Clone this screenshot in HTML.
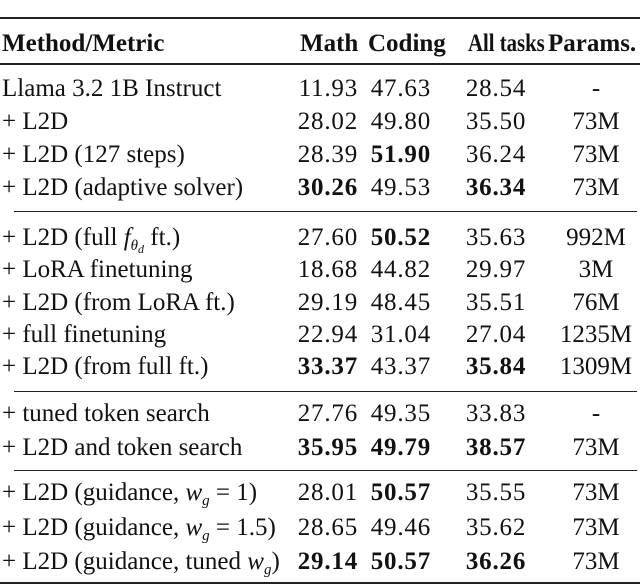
<!DOCTYPE html>
<html><head><meta charset="utf-8"><style>
body{margin:0;width:640px;height:586px;background:#fff;position:relative;overflow:hidden;font-family:"Liberation Serif",serif;font-size:25px;color:#111}
.r{position:absolute;left:0;width:640px;height:30px;line-height:30px}
.r span{position:absolute;white-space:nowrap}
.m{left:2px}.c1{right:282px;letter-spacing:0.8px}.c2{right:209px;letter-spacing:0.8px}.c3{left:496px;transform:translateX(-50%);letter-spacing:0.8px}.c4{left:596px;transform:translateX(-50%)}
b{font-weight:bold}
.ln{position:absolute;background:#222}
i{font-style:italic}
sub{font-size:15px;font-style:italic;vertical-align:-5px;line-height:0}
sub sub{font-size:12px;vertical-align:-3px}
</style></head><body>
<div class="ln" style="left:0;top:17px;width:640px;height:2px"></div>
<div class="r" style="top:29px"><span class="m"><b>Method/Metric</b></span><span style="left:300px"><b>Math</b></span><span style="left:368px"><b>Coding</b></span><span style="left:468px;transform:scaleX(0.83);transform-origin:left"><b>All tasks</b></span><span style="left:548px"><b>Params.</b></span></div>
<div class="ln" style="left:0;top:63px;width:640px;height:1.5px"></div>

<div class="r" style="top:74px"><span class="m">Llama 3.2 1B Instruct</span><span class="c1">11.93</span><span class="c2">47.63</span><span class="c3">28.54</span><span class="c4">-</span></div>
<div class="r" style="top:107px"><span class="m">+ L2D</span><span class="c1">28.02</span><span class="c2">49.80</span><span class="c3">35.50</span><span class="c4">73M</span></div>
<div class="r" style="top:140px"><span class="m">+ L2D (127 steps)</span><span class="c1">28.39</span><span class="c2"><b>51.90</b></span><span class="c3">36.24</span><span class="c4">73M</span></div>
<div class="r" style="top:173px"><span class="m">+ L2D (adaptive solver)</span><span class="c1"><b>30.26</b></span><span class="c2">49.53</span><span class="c3"><b>36.34</b></span><span class="c4">73M</span></div>
<div class="ln" style="left:14px;top:211px;width:623px;height:1px"></div>

<div class="r" style="top:223px"><span class="m">+ L2D (full <i>f</i><sub>θ<sub>d</sub></sub> ft.)</span><span class="c1">27.60</span><span class="c2"><b>50.52</b></span><span class="c3">35.63</span><span class="c4">992M</span></div>
<div class="r" style="top:255px"><span class="m">+ LoRA finetuning</span><span class="c1">18.68</span><span class="c2">44.82</span><span class="c3">29.97</span><span class="c4">3M</span></div>
<div class="r" style="top:288px"><span class="m">+ L2D (from LoRA ft.)</span><span class="c1">29.19</span><span class="c2">48.45</span><span class="c3">35.51</span><span class="c4">76M</span></div>
<div class="r" style="top:320px"><span class="m">+ full finetuning</span><span class="c1">22.94</span><span class="c2">31.04</span><span class="c3">27.04</span><span class="c4">1235M</span></div>
<div class="r" style="top:352px"><span class="m">+ L2D (from full ft.)</span><span class="c1"><b>33.37</b></span><span class="c2">43.37</span><span class="c3"><b>35.84</b></span><span class="c4">1309M</span></div>
<div class="ln" style="left:14px;top:391px;width:623px;height:1px"></div>

<div class="r" style="top:399px"><span class="m">+ tuned token search</span><span class="c1">27.76</span><span class="c2">49.35</span><span class="c3">33.83</span><span class="c4">-</span></div>
<div class="r" style="top:433px"><span class="m">+ L2D and token search</span><span class="c1"><b>35.95</b></span><span class="c2"><b>49.79</b></span><span class="c3"><b>38.57</b></span><span class="c4">73M</span></div>
<div class="ln" style="left:14px;top:470px;width:623px;height:1px"></div>

<div class="r" style="top:478px"><span class="m">+ L2D (guidance, <i>w</i><sub>g</sub> = 1)</span><span class="c1">28.01</span><span class="c2"><b>50.57</b></span><span class="c3">35.55</span><span class="c4">73M</span></div>
<div class="r" style="top:513px"><span class="m">+ L2D (guidance, <i>w</i><sub>g</sub> = 1.5)</span><span class="c1">28.65</span><span class="c2">49.46</span><span class="c3">35.62</span><span class="c4">73M</span></div>
<div class="r" style="top:547px"><span class="m">+ L2D (guidance, tuned <i>w</i><sub>g</sub>)</span><span class="c1"><b>29.14</b></span><span class="c2"><b>50.57</b></span><span class="c3"><b>36.26</b></span><span class="c4">73M</span></div>
<div class="ln" style="left:0;top:582px;width:640px;height:2px"></div>
</body></html>
